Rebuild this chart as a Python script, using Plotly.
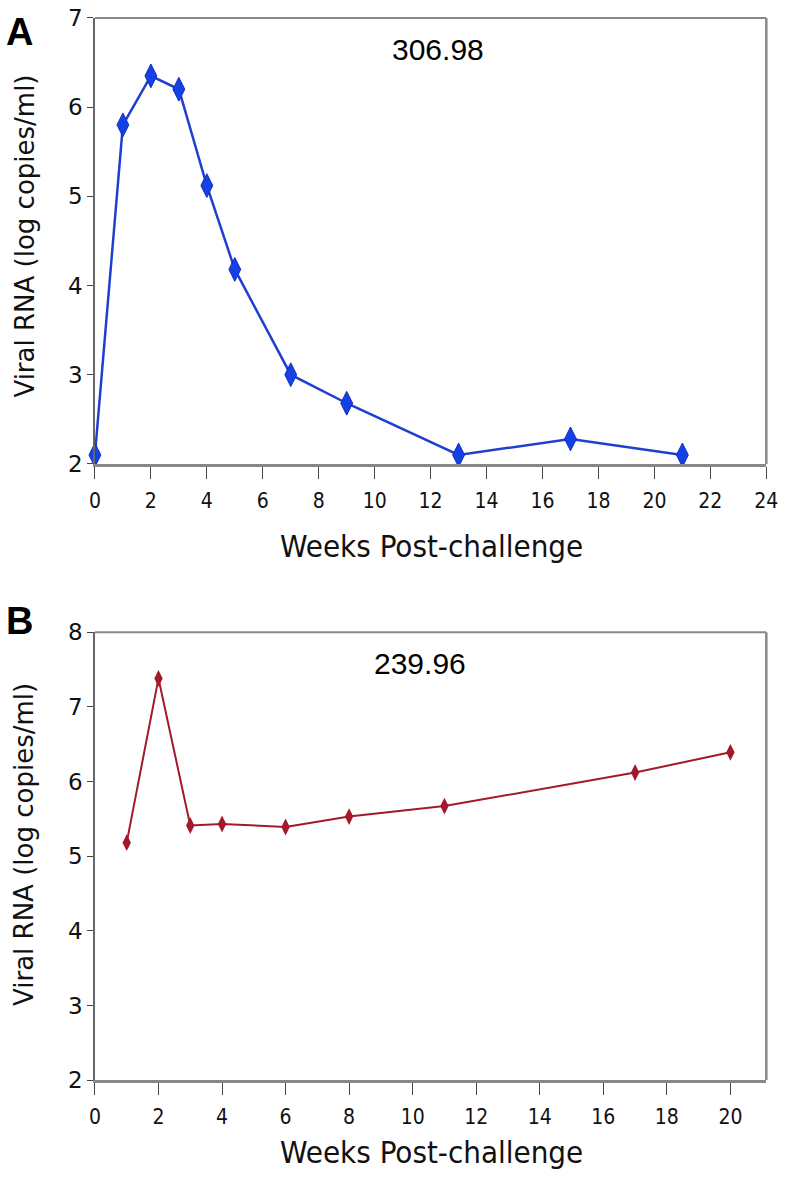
import plotly.graph_objects as go

# Panel A data
weeks_a = [0, 1, 2, 3, 4, 5, 7, 9, 13, 17, 21]
rna_a = [2.1, 5.8, 6.35, 6.2, 5.12, 4.18, 3.0, 2.68, 2.1, 2.28, 2.1]
label_a = "306.98"

# Panel B data
weeks_b = [1, 2, 3, 4, 6, 8, 11, 17, 20]
rna_b = [5.18, 7.38, 5.41, 5.43, 5.39, 5.53, 5.67, 6.12, 6.39]
label_b = "239.96"

xticks_a = list(range(0, 25, 2))
xticks_b = list(range(0, 21, 2))
yticks_a = [2, 3, 4, 5, 6, 7]
yticks_b = [2, 3, 4, 5, 6, 7, 8]

W, H = 792, 1187

def fx(p):
    return p / W

def fy(p):
    return 1 - p / H

xdom = [fx(91), fx(778)]
dom_a = [fy(461), fy(5)]
dom_b = [fy(1091), fy(633)]

fig = go.Figure()
fig.add_trace(go.Scatter(
    x=weeks_a, y=rna_a, mode="lines+markers", xaxis="x", yaxis="y",
    line=dict(color="#1f3fcf", width=2.5),
    marker=dict(symbol="diamond-tall", size=17, color="#1540e6",
                line=dict(color="#1030c0", width=1)),
    cliponaxis=False, showlegend=False))
fig.add_trace(go.Scatter(
    x=weeks_b, y=rna_b, mode="lines+markers", xaxis="x2", yaxis="y2",
    line=dict(color="#a3192c", width=2),
    marker=dict(symbol="diamond-tall", size=12, color="#a3192c"),
    cliponaxis=False, showlegend=False))

tickfont_x = dict(family="DejaVu Sans Condensed, Arial Narrow, sans-serif", size=21, color="#111")
tickfont_y = dict(family="DejaVu Sans, Verdana, sans-serif", size=23, color="#111")

common_x = dict(showgrid=False, zeroline=False, showline=True, linecolor="#888",
                linewidth=3, ticks="outside", ticklen=12, tickwidth=1,
                tickcolor="#444", tickfont=tickfont_x, domain=xdom,
                ticklabelstandoff=4, ticklabeloverflow="allow")
common_y = dict(showgrid=False, zeroline=False, showline=True, linecolor="#666",
                linewidth=1.5, ticks="outside", ticklen=6, tickwidth=1,
                tickcolor="#444", tickfont=tickfont_y)

fig.update_layout(
    width=W, height=H, margin=dict(l=0, r=0, t=0, b=0),
    paper_bgcolor="white", plot_bgcolor="white",
    xaxis=dict(common_x, range=[0, 24], tickvals=xticks_a, anchor="y"),
    yaxis=dict(common_y, range=[2, 7], tickvals=yticks_a, domain=dom_a, anchor="x"),
    xaxis2=dict(common_x, range=[0, 21.13], tickvals=xticks_b, anchor="y2"),
    yaxis2=dict(common_y, range=[2, 8], tickvals=yticks_b, domain=dom_b, anchor="x2"),
)

# plot frame (top and right border)
for xr, yr in (("x domain", "y domain"), ("x2 domain", "y2 domain")):
    fig.add_shape(type="line", xref=xr, yref=yr, x0=0, x1=1, y0=1, y1=1,
                  line=dict(color="#888", width=2))
    fig.add_shape(type="line", xref=xr, yref=yr, x0=1, x1=1, y0=0, y1=1,
                  line=dict(color="#888", width=2.5))

ytitle = "Viral RNA (log copies/ml)"
xtitle = "Weeks Post-challenge"
title_font = dict(family="DejaVu Sans, Verdana, sans-serif", size=26, color="#111")
xtitle_font = dict(family="DejaVu Sans Condensed, Arial Narrow, sans-serif", size=31, color="#111")
ann = [
    dict(text="A", x=fx(14), y=fy(19), font=dict(family="Liberation Sans, Arial", size=38, color="black"), bold=True),
    dict(text="B", x=fx(14), y=fy(622), font=dict(family="Liberation Sans, Arial", size=38, color="black"), bold=True),
    dict(text=ytitle, x=fx(19), y=fy(228), textangle=-90, font=title_font),
    dict(text=ytitle, x=fx(19), y=fy(850), textangle=-90, font=title_font),
    dict(text=xtitle, x=fx(435), y=fy(545), font=xtitle_font),
    dict(text=xtitle, x=fx(435), y=fy(1165), font=xtitle_font),
    dict(text=label_a, x=fx(442), y=fy(37), font=dict(family="Liberation Sans, Arial", size=30, color="black")),
    dict(text=label_b, x=fx(424), y=fy(665), font=dict(family="Liberation Sans, Arial", size=30, color="black")),
]
for a in ann:
    bold = a.pop("bold", False)
    if bold:
        a["text"] = "<b>" + a["text"] + "</b>"
    fig.add_annotation(xref="paper", yref="paper", showarrow=False,
                       xanchor="center", yanchor="middle", **a)

fig.write_html("out.html", config={"displayModeBar": False},
               post_script="document.body.style.margin='0px';")
